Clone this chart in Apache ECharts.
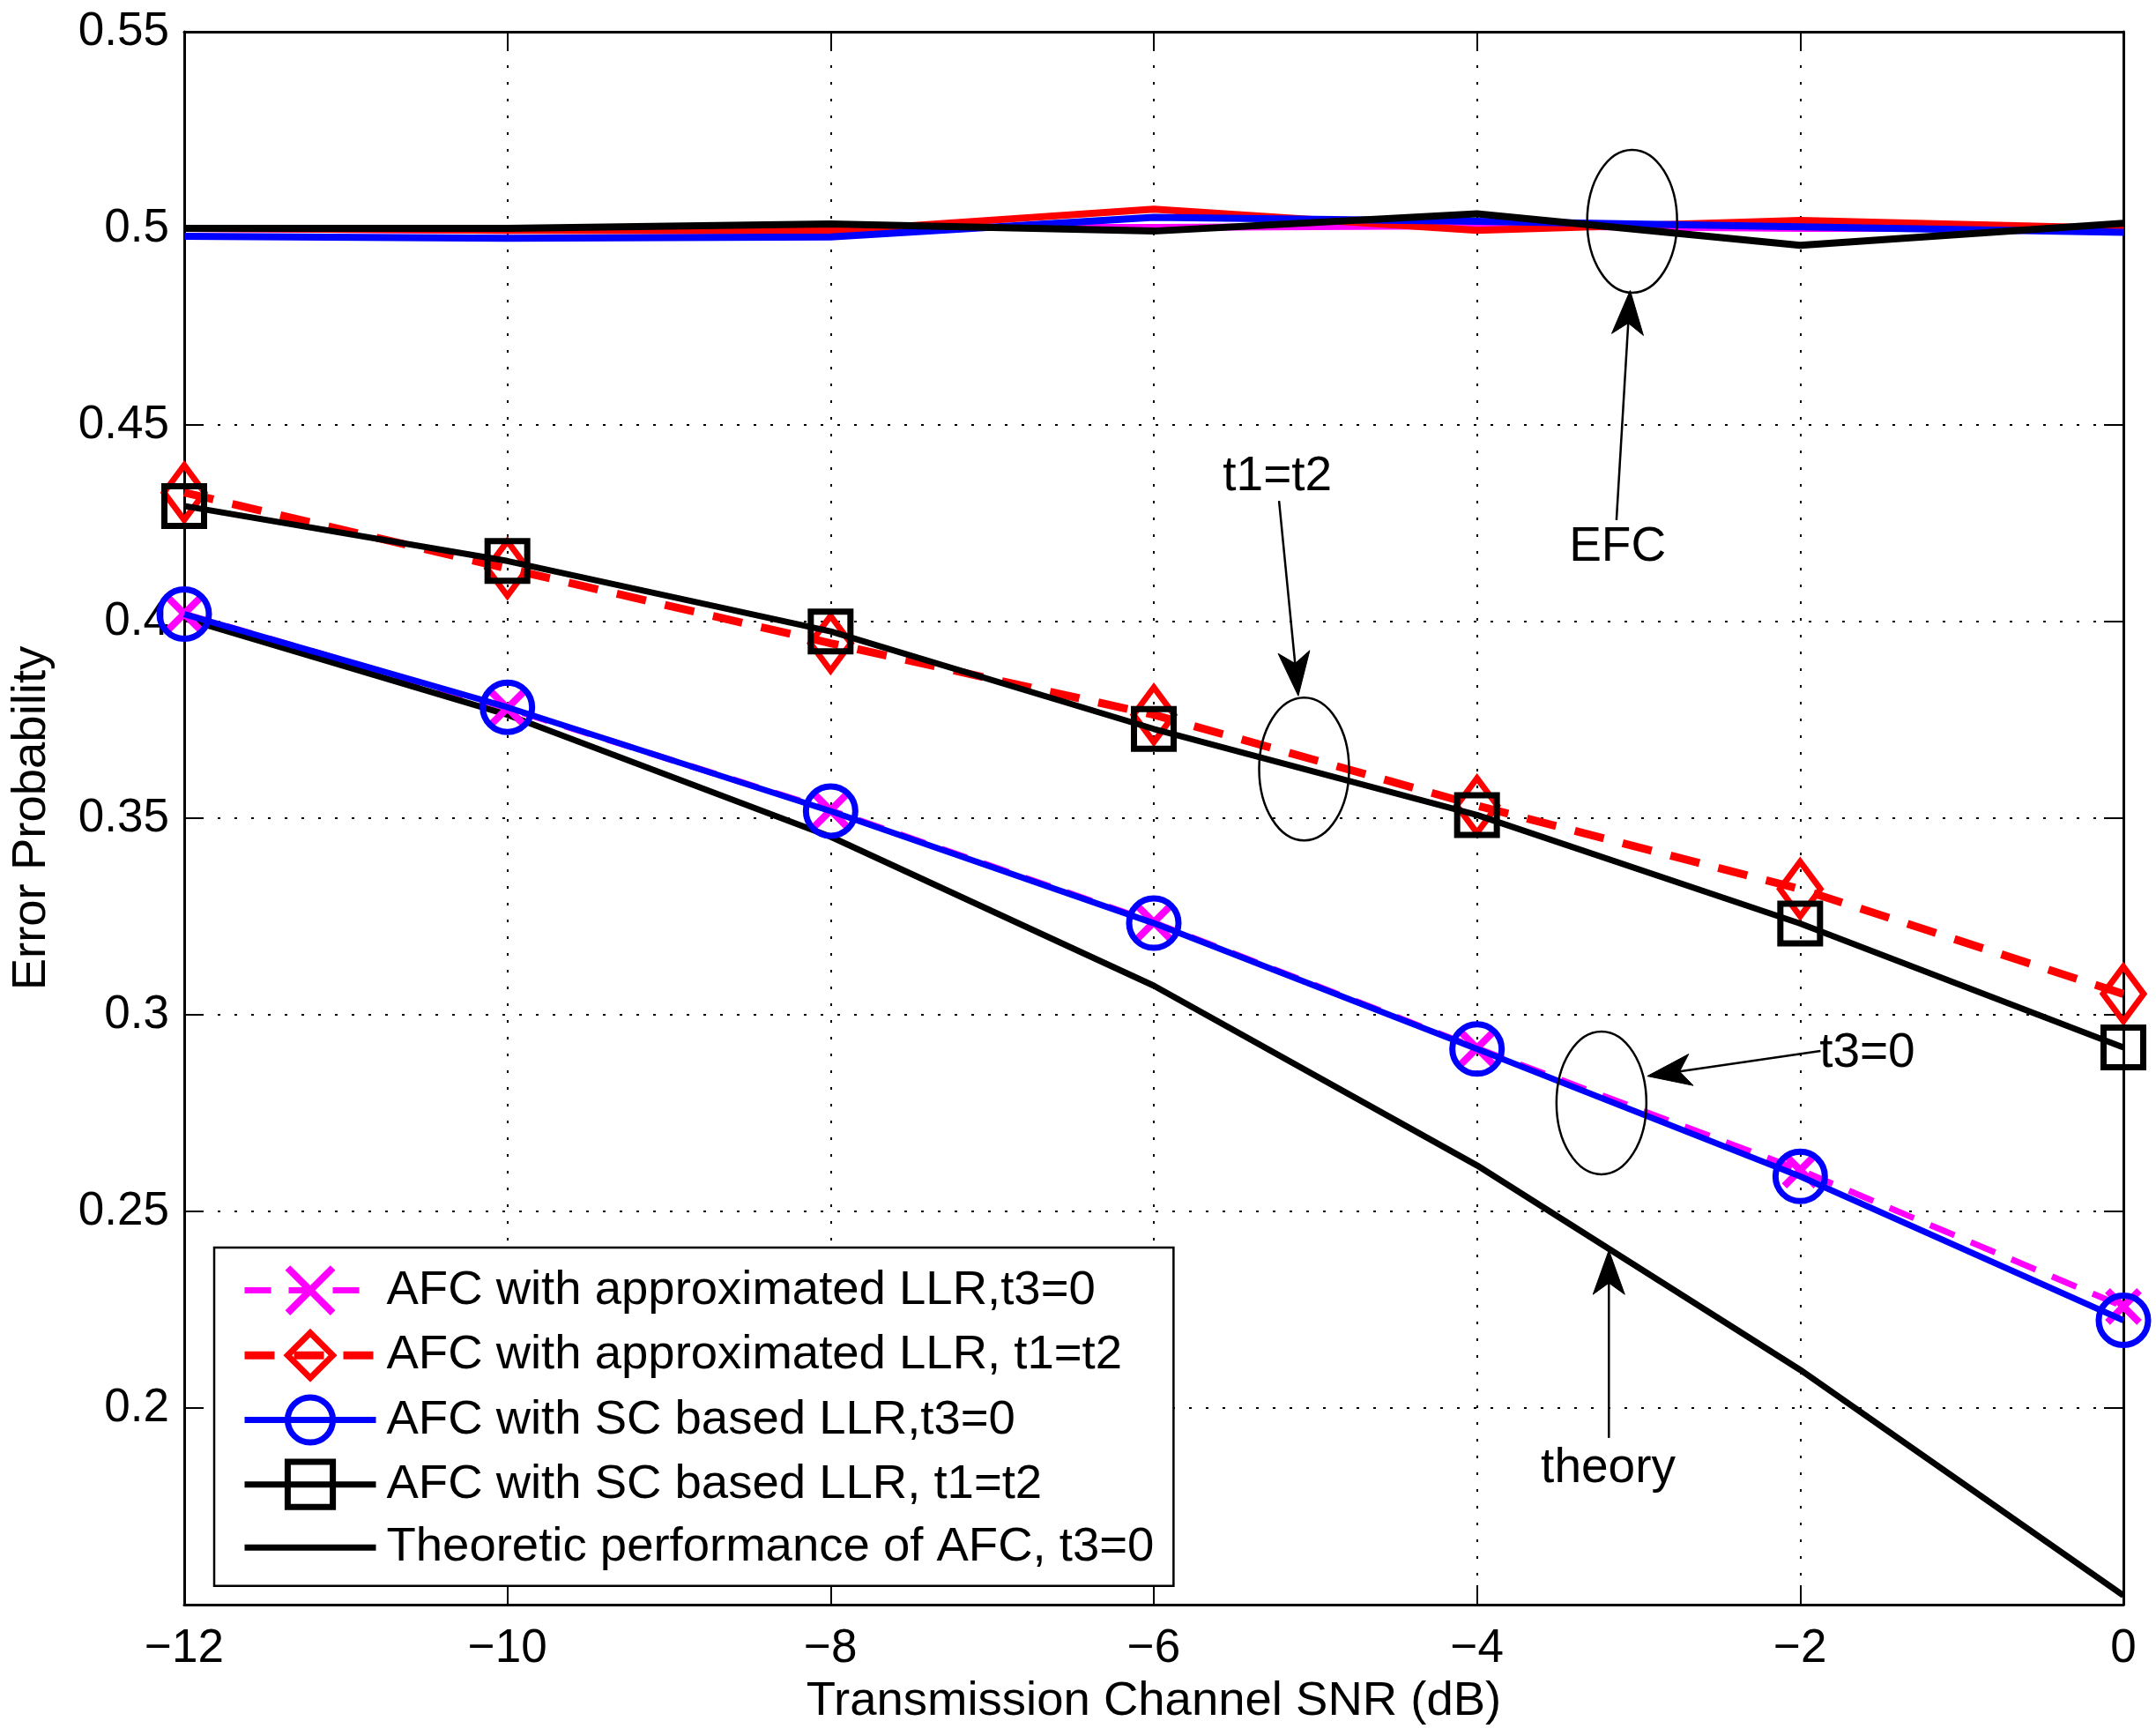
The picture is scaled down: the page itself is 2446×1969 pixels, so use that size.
<!DOCTYPE html>
<html>
<head>
<meta charset="utf-8">
<title>Error Probability vs SNR</title>
<script src="https://cdn.jsdelivr.net/npm/echarts@6/dist/echarts.min.js"></script>
<style>
  html, body { margin: 0; padding: 0; background: #fff; }
  #main { width: 2446px; height: 1969px; }
</style>
</head>
<body>
<div id="main"></div>
<script>
// x axis values (dB)
var snr = [-12, -10, -8, -6, -4, -2, 0];

// AFC curves
var approxT3 = [0.402, 0.378, 0.352, 0.3235, 0.2915, 0.2605, 0.2258];
var approxT12 = [0.4328, 0.4135, 0.3945, 0.3763, 0.3532, 0.332, 0.3053];
var scT3 = [0.4019, 0.3782, 0.3518, 0.3233, 0.2913, 0.2589, 0.2223];
var scT12 = [0.4294, 0.4154, 0.3975, 0.3727, 0.3508, 0.3232, 0.2917];
var theory = [0.4008, 0.3763, 0.3453, 0.3074, 0.2617, 0.2097, 0.1523];

// EFC curves (around 0.5, no legend entry)
var efcApproxT3 = [0.5, 0.4995, 0.5003, 0.5002, 0.5007, 0.5, 0.5];
var efcApproxT12 = [0.5, 0.4995, 0.4993, 0.5049, 0.4995, 0.502, 0.5];
var efcScT3 = [0.498, 0.4975, 0.4978, 0.5028, 0.5018, 0.5004, 0.499];
var efcScT12 = [0.5, 0.5, 0.5011, 0.4993, 0.5037, 0.4957, 0.5013];

var legendNames = [
    'AFC with approximated LLR,t3=0',
    'AFC with approximated LLR, t1=t2',
    'AFC with SC based LLR,t3=0',
    'AFC with SC based LLR, t1=t2',
    'Theoretic performance of AFC, t3=0'
];

// annotations, in data coordinates
var ellipseCenters = [[-3.04, 0.5018], [-5.07, 0.3625], [-3.23, 0.2776]];
var noteTexts = ['EFC', 't1=t2', 't3=0', 'theory'];
var notePos = [[-3.13, 0.4188], [-5.235, 0.4367], [-1.585, 0.2901], [-3.188, 0.1846]];
var arrowFrom = [[-3.137, 0.4258], [-5.225, 0.4307], [-1.874, 0.2908], [-3.184, 0.1924]];
var arrowTo = [[-3.052, 0.4842], [-5.106, 0.3811], [-2.946, 0.2844], [-3.184, 0.2401]];

var FONT = "'Liberation Sans', Arial, Helvetica, sans-serif";

function pairs(ys) {
    return snr.map(function (x, i) { return [x, ys[i]]; });
}

var chart = echarts.init(document.getElementById('main'));

var gridLine = { show: true, lineStyle: { color: '#000', width: 2, type: [3, 16] } };
var axisLine = { show: true, onZero: false, lineStyle: { color: '#000', width: 3 } };
var axisTick = { show: true, inside: true, length: 22, lineStyle: { color: '#000', width: 2 } };

function efcSeries(name, data, color) {
    return {
        name: name,
        type: 'line',
        data: pairs(data),
        symbol: 'none',
        lineStyle: { color: color, width: 8 },
        itemStyle: { color: color },
        z: 2
    };
}

var legendData = [
    { name: legendNames[0], lineStyle: { width: 7 }, itemStyle: { borderWidth: 8 } },
    { name: legendNames[1], lineStyle: { width: 9 }, itemStyle: { borderWidth: 7 } },
    { name: legendNames[2], lineStyle: { width: 7 }, itemStyle: { borderWidth: 7 } },
    { name: legendNames[3], lineStyle: { width: 7 }, itemStyle: { borderWidth: 7 } },
    { name: legendNames[4], lineStyle: { width: 7 }, itemStyle: { color: 'rgba(0,0,0,0)', borderWidth: 0 } }
];

var option = {
    animation: false,
    backgroundColor: '#fff',
    textStyle: { fontFamily: FONT },
    grid: { left: 208, right: 37, top: 36, bottom: 149, containLabel: false },
    legend: {
        data: legendData,
        orient: 'vertical',
        left: 243,
        top: 1415,
        padding: [19, 22, 16, 30],
        itemWidth: 149,
        itemHeight: 64,
        itemGap: 15,
        borderColor: '#000',
        borderWidth: 2.5,
        backgroundColor: '#fff',
        selectedMode: false,
        textStyle: { fontSize: 54.5, color: '#000', fontFamily: FONT, padding: [0, 0, 0, 7] }
    },
    xAxis: [{
        type: 'value',
        min: -12,
        max: 0,
        interval: 2,
        position: 'bottom',
        name: 'Transmission Channel SNR (dB)',
        nameLocation: 'middle',
        nameGap: 82,
        nameTextStyle: { fontSize: 54.5, color: '#000', fontFamily: FONT },
        axisLine: axisLine,
        axisTick: axisTick,
        axisLabel: {
            fontSize: 53, color: '#000', fontFamily: FONT, margin: 24,
            formatter: function (v) { return String(v).replace('-', '\u2212'); }
        },
        splitLine: gridLine
    }, {
        type: 'value',
        min: -12,
        max: 0,
        interval: 2,
        position: 'top',
        axisLine: axisLine,
        axisTick: axisTick,
        axisLabel: { show: false },
        splitLine: { show: false }
    }],
    yAxis: [{
        type: 'value',
        min: 0.15,
        max: 0.55,
        interval: 0.05,
        position: 'left',
        name: 'Error Probability',
        nameLocation: 'middle',
        nameGap: 146,
        nameTextStyle: { fontSize: 54.5, color: '#000', fontFamily: FONT },
        axisLine: axisLine,
        axisTick: axisTick,
        axisLabel: {
            fontSize: 53, color: '#000', fontFamily: FONT, margin: 17,
            formatter: function (v) { return v < 0.16 ? '' : String(+v.toFixed(2)); }
        },
        splitLine: gridLine
    }, {
        type: 'value',
        min: 0.15,
        max: 0.55,
        interval: 0.05,
        position: 'right',
        axisLine: axisLine,
        axisTick: axisTick,
        axisLabel: { show: false },
        splitLine: { show: false }
    }],
    series: [
        efcSeries('EFC approx t3=0', efcApproxT3, '#ff00ff'),
        efcSeries('EFC approx t1=t2', efcApproxT12, '#ff0000'),
        efcSeries('EFC SC t3=0', efcScT3, '#0000ff'),
        efcSeries('EFC SC t1=t2', efcScT12, '#000000'),
        {
            name: legendNames[0],
            type: 'line',
            data: pairs(approxT3),
            symbol: 'path://M0,0L10,10M10,0L0,10',
            symbolSize: 36,
            lineStyle: { color: '#ff00ff', width: 7, type: [30, 20] },
            itemStyle: { color: 'rgba(0,0,0,0)', borderColor: '#ff00ff', borderWidth: 8 },
            z: 3
        },
        {
            name: legendNames[1],
            type: 'line',
            data: pairs(approxT12),
            symbol: 'diamond',
            symbolSize: [46, 62],
            lineStyle: { color: '#ff0000', width: 9, type: [34, 22] },
            itemStyle: { color: 'rgba(0,0,0,0)', borderColor: '#ff0000', borderWidth: 7 },
            z: 3
        },
        {
            name: legendNames[2],
            type: 'line',
            data: pairs(scT3),
            symbol: 'circle',
            symbolSize: 56,
            lineStyle: { color: '#0000ff', width: 7 },
            itemStyle: { color: 'rgba(0,0,0,0)', borderColor: '#0000ff', borderWidth: 7 },
            z: 4
        },
        {
            name: legendNames[3],
            type: 'line',
            data: pairs(scT12),
            symbol: 'rect',
            symbolSize: 45,
            lineStyle: { color: '#000', width: 7 },
            itemStyle: { color: 'rgba(0,0,0,0)', borderColor: '#000', borderWidth: 7 },
            z: 4
        },
        {
            name: legendNames[4],
            type: 'line',
            data: pairs(theory),
            symbol: 'none',
            lineStyle: { color: '#000', width: 7 },
            itemStyle: { color: '#000' },
            z: 3
        }
    ]
};

chart.setOption(option);

function toPx(p) {
    return chart.convertToPixel({ xAxisIndex: 0, yAxisIndex: 0 }, p);
}

function buildAnnotations() {
    var els = [];
    ellipseCenters.forEach(function (c) {
        var p = toPx(c);
        els.push({
            type: 'ellipse',
            shape: { cx: p[0], cy: p[1], rx: 51, ry: 81 },
            style: { fill: 'none', stroke: '#000', lineWidth: 2.5 },
            z: 100
        });
    });
    noteTexts.forEach(function (t, i) {
        var p = toPx(notePos[i]);
        els.push({
            type: 'text',
            x: p[0],
            y: p[1],
            style: {
                text: t, fill: '#000', fontSize: 55, fontFamily: FONT,
                align: 'center', verticalAlign: 'middle'
            },
            z: 100
        });
        // arrow shaft and head
        var a = toPx(arrowFrom[i]);
        var b = toPx(arrowTo[i]);
        var dx = b[0] - a[0], dy = b[1] - a[1];
        var len = Math.sqrt(dx * dx + dy * dy);
        var ux = dx / len, uy = dy / len;
        var headLen = 50, headHalf = 18, notch = 37;
        var baseX = b[0] - ux * headLen, baseY = b[1] - uy * headLen;
        var nX = b[0] - ux * notch, nY = b[1] - uy * notch;
        els.push({
            type: 'line',
            shape: { x1: a[0], y1: a[1], x2: nX, y2: nY },
            style: { stroke: '#000', lineWidth: 2.5 },
            z: 100
        });
        els.push({
            type: 'polygon',
            shape: {
                points: [
                    [b[0], b[1]],
                    [baseX - uy * headHalf, baseY + ux * headHalf],
                    [nX, nY],
                    [baseX + uy * headHalf, baseY - ux * headHalf]
                ]
            },
            style: { fill: '#000', stroke: '#000', lineWidth: 1 },
            z: 100
        });
    });
    chart.setOption({ graphic: { elements: els } });
}

buildAnnotations();

window.addEventListener('resize', function () {
    chart.resize();
    buildAnnotations();
});
</script>
</body>
</html>
